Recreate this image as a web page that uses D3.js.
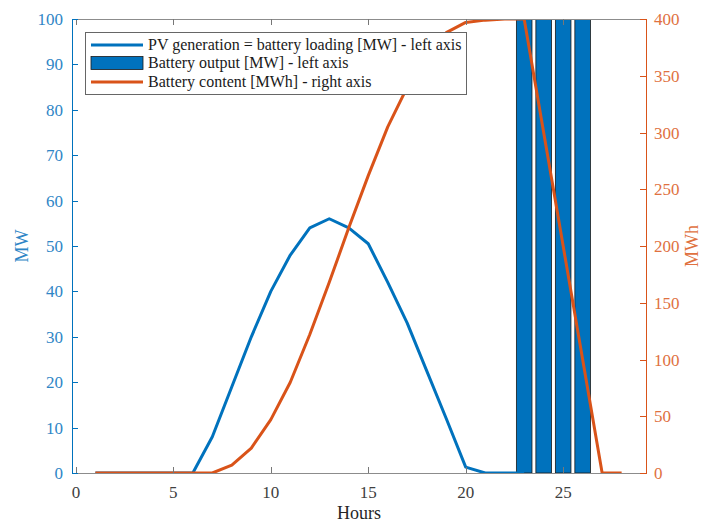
<!DOCTYPE html>
<html lang="en">
<head>
  <meta charset="UTF-8">
  <title>PV generation and battery</title>
  <script src="https://d3js.org/d3.v7.min.js"></script>
  <style>
    body {
      margin: 0;
      background: #ffffff;
    }
    svg, svg text {
      font-family: "Liberation Serif", "DejaVu Serif", serif;
    }
  </style>
</head>
<body>
  <div id="chart"></div>
  <script>
    // values
    const pvHours = [1, 2, 3, 4, 5, 6, 7, 8, 9, 10, 11, 12, 13, 14, 15, 16, 17, 18, 19, 20, 21, 22, 23];
    const pvValues = [0, 0, 0, 0, 0, 0, 8, 19, 30, 40, 48, 54, 56, 54, 50.5, 42, 33, 22.5, 12, 1.3, 0, 0, 0];

    const contentHours = [1, 2, 3, 4, 5, 6, 7, 8, 9, 10, 11, 12, 13, 14, 15, 16, 17, 18, 19, 20, 21, 22, 23, 24, 25, 26, 27, 28];
    const contentValues = [0, 0, 0, 0, 0, 0, 0, 7, 22, 47, 80, 122, 168, 216, 262, 305, 340, 368, 388, 397, 399, 400, 400, 300, 200, 100, 0, 0];

    const barHours = [23, 24, 25, 26];
    const barValues = [100, 100, 100, 100];

    const xTicks = [0, 5, 10, 15, 20, 25];
    const leftTicks = [0, 10, 20, 30, 40, 50, 60, 70, 80, 90, 100];
    const rightTicks = [0, 50, 100, 150, 200, 250, 300, 350, 400];

    const legendLabels = [
      "PV generation = battery loading [MW] - left axis",
      "Battery output [MW] - left axis",
      "Battery content [MWh] - right axis"
    ];

    const blue = "#0072bd";
    const orange = "#d95319";
    const serif = "'Liberation Serif', 'DejaVu Serif', serif";

    const W = 704, H = 524;
    const pL = 72, pR = 646, pT = 19, pB = 473;

    const svg = d3.select("#chart").append("svg")
      .attr("width", W)
      .attr("height", H)
      .attr("font-family", serif);

    const x = d3.scaleLinear().domain([-0.2, 29.25]).range([pL, pR]);
    const yL = d3.scaleLinear().domain([0, 100]).range([pB, pT]);
    const yR = d3.scaleLinear().domain([0, 400]).range([pB, pT]);

    svg.append("clipPath").attr("id", "plot")
      .append("rect")
      .attr("x", pL).attr("y", pT)
      .attr("width", pR - pL).attr("height", pB - pT);

    const plot = svg.append("g").attr("clip-path", "url(#plot)");

    // bars (left axis)
    const barW = x(0.8) - x(0);
    plot.selectAll(".bar")
      .data(barHours)
      .enter().append("rect")
      .attr("class", "bar")
      .attr("x", d => x(d) - barW / 2)
      .attr("y", (d, i) => yL(barValues[i]))
      .attr("width", barW)
      .attr("height", (d, i) => yL(0) - yL(barValues[i]))
      .attr("fill", blue)
      .attr("stroke", "#1a1a1a")
      .attr("stroke-width", 0.8);

    // PV line (left axis)
    const pvLine = d3.line()
      .x((d, i) => x(pvHours[i]))
      .y(d => yL(d));
    plot.append("path")
      .datum(pvValues)
      .attr("d", pvLine)
      .attr("fill", "none")
      .attr("stroke", blue)
      .attr("stroke-width", 3)
      .attr("stroke-linejoin", "round");

    // frame
    const tick = 6;
    svg.append("line")
      .attr("x1", pL).attr("x2", pR).attr("y1", pT + 0.5).attr("y2", pT + 0.5)
      .attr("stroke", "#8c8c8c");
    svg.append("line")
      .attr("x1", pL).attr("x2", pR).attr("y1", pB + 0.5).attr("y2", pB + 0.5)
      .attr("stroke", "#8c8c8c");

    // x ticks top and bottom, pointing inward
    xTicks.forEach(t => {
      const px = Math.round(x(t)) + 0.5;
      svg.append("line").attr("x1", px).attr("x2", px)
        .attr("y1", pB).attr("y2", pB - tick).attr("stroke", "#777");
      svg.append("line").attr("x1", px).attr("x2", px)
        .attr("y1", pT).attr("y2", pT + tick).attr("stroke", "#777");
    });
    svg.selectAll(".xlab")
      .data(xTicks)
      .enter().append("text")
      .attr("x", d => x(d))
      .attr("y", pB + 25)
      .attr("text-anchor", "middle")
      .attr("font-family", serif)
      .attr("font-size", 17)
      .attr("fill", "#404040")
      .text(d => d);

    svg.append("text")
      .attr("x", (pL + pR) / 2)
      .attr("y", 519)
      .attr("text-anchor", "middle")
      .attr("font-family", serif)
      .attr("font-size", 18)
      .attr("fill", "#262626")
      .text("Hours");

    // left axis
    svg.append("line")
      .attr("x1", pL + 0.5).attr("x2", pL + 0.5).attr("y1", pT).attr("y2", pB + 1)
      .attr("stroke", blue);
    leftTicks.forEach(t => {
      const py = Math.round(yL(t)) + 0.5;
      svg.append("line").attr("x1", pL).attr("x2", pL + tick)
        .attr("y1", py).attr("y2", py).attr("stroke", blue);
    });
    svg.selectAll(".ylab")
      .data(leftTicks)
      .enter().append("text")
      .attr("x", pL - 9)
      .attr("y", d => yL(d) + 6)
      .attr("text-anchor", "end")
      .attr("font-family", serif)
      .attr("font-size", 17)
      .attr("fill", "#2f86c6")
      .text(d => d);
    svg.append("text")
      .attr("transform", "translate(28," + ((pT + pB) / 2) + ") rotate(-90)")
      .attr("text-anchor", "middle")
      .attr("font-family", serif)
      .attr("font-size", 18)
      .attr("fill", "#2f86c6")
      .text("MW");

    // right axis
    svg.append("line")
      .attr("x1", pR + 0.5).attr("x2", pR + 0.5).attr("y1", pT).attr("y2", pB + 1)
      .attr("stroke", orange);
    rightTicks.forEach(t => {
      const py = Math.round(yR(t)) + 0.5;
      svg.append("line").attr("x1", pR - tick).attr("x2", pR)
        .attr("y1", py).attr("y2", py).attr("stroke", orange);
    });
    svg.selectAll(".rlab")
      .data(rightTicks)
      .enter().append("text")
      .attr("x", pR + 8)
      .attr("y", d => yR(d) + 6)
      .attr("text-anchor", "start")
      .attr("font-family", serif)
      .attr("font-size", 17)
      .attr("fill", "#e0713f")
      .text(d => d);
    svg.append("text")
      .attr("transform", "translate(698," + ((pT + pB) / 2) + ") rotate(-90)")
      .attr("text-anchor", "middle")
      .attr("font-family", serif)
      .attr("font-size", 18)
      .attr("fill", "#e0713f")
      .text("MWh");

    // battery content (right axis)
    const contentLine = d3.line()
      .x((d, i) => x(contentHours[i]))
      .y(d => yR(d));
    plot.append("path")
      .datum(contentValues)
      .attr("d", contentLine)
      .attr("fill", "none")
      .attr("stroke", orange)
      .attr("stroke-width", 3)
      .attr("stroke-linejoin", "round");

    // legend
    const lg = svg.append("g").attr("transform", "translate(85,32)");
    lg.append("rect")
      .attr("x", 0.5).attr("y", 0.5)
      .attr("width", 381).attr("height", 62)
      .attr("fill", "white")
      .attr("stroke", "#666");
    const rowY = [13, 31, 50];
    lg.append("line")
      .attr("x1", 6).attr("x2", 58).attr("y1", rowY[0]).attr("y2", rowY[0])
      .attr("stroke", blue).attr("stroke-width", 3);
    lg.append("rect")
      .attr("x", 6).attr("y", rowY[1] - 6.5)
      .attr("width", 52).attr("height", 13)
      .attr("fill", blue).attr("stroke", "#1a1a1a").attr("stroke-width", 0.8);
    lg.append("line")
      .attr("x1", 6).attr("x2", 58).attr("y1", rowY[2]).attr("y2", rowY[2])
      .attr("stroke", orange).attr("stroke-width", 3);
    lg.selectAll(".lt")
      .data(legendLabels)
      .enter().append("text")
      .attr("x", 63)
      .attr("y", (d, i) => rowY[i] + 5)
      .attr("font-family", serif)
      .attr("font-size", 16)
      .attr("fill", "#1a1a1a")
      .text(d => d);
  </script>
</body>
</html>
